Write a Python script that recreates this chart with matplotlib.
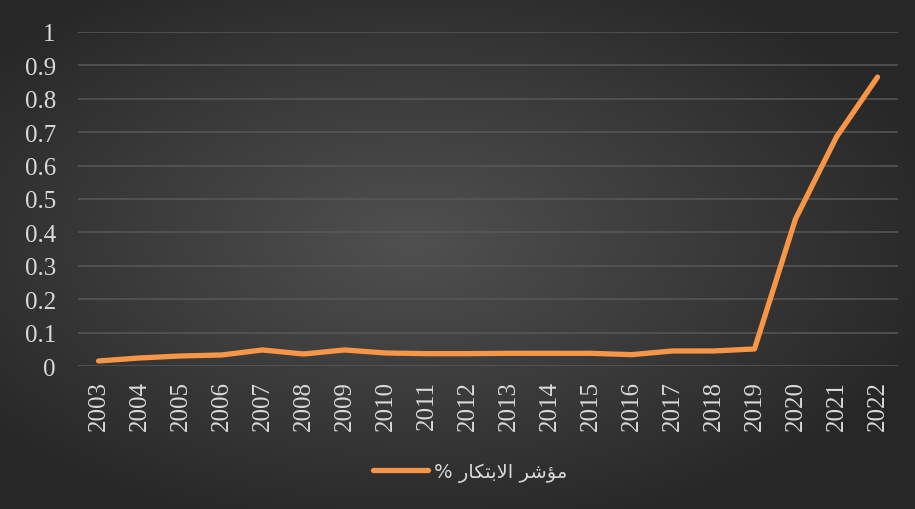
import numpy as np
import matplotlib.pyplot as plt

years = [str(y) for y in range(2003, 2023)]
values = [0.015, 0.024, 0.030, 0.033, 0.048, 0.036, 0.048, 0.039, 0.037, 0.037,
          0.038, 0.038, 0.038, 0.034, 0.045, 0.045, 0.051, 0.44, 0.686, 0.865]
yticks = [0, 0.1, 0.2, 0.3, 0.4, 0.5, 0.6, 0.7, 0.8, 0.9, 1]
ytick_labels = ['0', '0.1', '0.2', '0.3', '0.4', '0.5', '0.6', '0.7', '0.8', '0.9', '1']

# legend label "مؤشر الابتكار %" written in shaped presentation forms, visual order
legend_label = '% \uFEAD\uFE8E\uFEDC\uFE98\uFE91\uFEFB\uFE8D \uFEAE\uFEB7\uFE86\uFEE3'

line_color = '#f79646'
text_color = '#d9d9d9'

fig = plt.figure(figsize=(9.15, 5.10), dpi=100)

# radial gradient background
bg = fig.add_axes([0, 0, 1, 1])
gx, gy = np.meshgrid(np.linspace(-1, 1, 400), np.linspace(-1, 1, 250))
r = np.sqrt((gx + 0.1) ** 2 + (gy + 0.05) ** 2)
r = np.clip(r / 1.2, 0, 1)
c_in = np.array([0x50, 0x50, 0x50]) / 255
c_out = np.array([0x27, 0x27, 0x27]) / 255
img = c_in[None, None, :] * (1 - r[..., None]) + c_out[None, None, :] * r[..., None]
bg.imshow(img, aspect='auto', extent=[0, 1, 0, 1])
bg.axis('off')

ax = fig.add_axes([78 / 915, 1 - 367 / 510, (898 - 78) / 915, (367 - 33) / 510])
ax.patch.set_alpha(0)
x = np.arange(len(years))
ax.plot(x, values, color=line_color, lw=3.8, solid_capstyle='round',
        solid_joinstyle='round', label=legend_label)
ax.set_xlim(-0.5, len(years) - 0.5)
ax.set_ylim(0, 1)
ax.set_yticks(yticks)
ax.set_yticklabels(ytick_labels)
ax.set_xticks(x)
ax.set_xticklabels(years, rotation=90)
ax.grid(axis='y', color='#585858', lw=1.1)
ax.set_axisbelow(True)
for s in ax.spines.values():
    s.set_visible(False)
ax.tick_params(length=0, colors=text_color, labelsize=18)
ax.tick_params(axis='y', pad=16)
ax.tick_params(axis='x', pad=10)
for lab in ax.get_xticklabels() + ax.get_yticklabels():
    lab.set_family('Liberation Serif')
    lab.set_color(text_color)

leg = ax.legend(loc='center', bbox_to_anchor=(470 / 915, 1 - 473 / 510),
                bbox_transform=fig.transFigure, frameon=False,
                prop={'family': 'DejaVu Sans', 'size': 14},
                handlelength=2.8, handletextpad=0.3)
for t in leg.get_texts():
    t.set_color(text_color)

fig.savefig('out.png', dpi=100)
